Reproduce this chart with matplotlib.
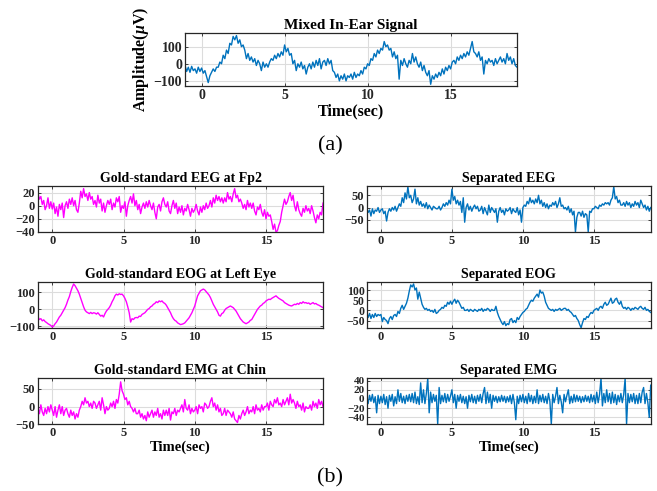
import numpy as np
import matplotlib
matplotlib.use("Agg")
import matplotlib.pyplot as plt

plt.rcParams['font.family'] = ['Liberation Serif', 'DejaVu Serif']
plt.rcParams['mathtext.fontset'] = 'custom'
plt.rcParams['mathtext.it'] = 'Liberation Serif:italic:bold'
plt.rcParams['mathtext.rm'] = 'Liberation Serif:bold'

# time axis (seconds), one value per 0.1 s from -1 to 19
t_start, t_step = -1.0, 0.1

mixed = [-10, -45, -20, -50, -15, -40, -30, -55, -20, -45,
         -25, -55, -40, -75, -110, -70, -50, -30, -45, -20,
         -20, 10, 0, 50, 30, 80, 60, 120, 110, 160,
         140, 165, 120, 140, 100, 110, 80, 30, 60, 20,
         40, 10, 30, -10, 20, 0, -40, 10, -20, 0,
         -20, 10, 30, 20, 50, 30, 60, 40, 70, 50,
         110, 70, 90, 50, 60, 0, 20, -40, 0, -20,
         10, -30, -10, -60, -20, 0, -30, 10, -20, 20,
         -10, 30, -30, 10, 20, -10, 30, 0, 20, -40,
         -50, -80, -60, -100, -70, -90, -60, -100, -70, -80,
         -60, -90, -50, -80, -60, -70, -40, -60, -20, -30,
         0, -10, 30, 20, 60, 40, 80, 60, 90, 80,
         130, 100, 110, 80, 90, 40, 70, 30, 50, -90,
         20, -10, 30, 0, -20, 20, 0, 60, 10, 40,
         0, -20, 10, -40, -10, -50, -70, -40, -120, -70,
         -90, -60, -80, -50, -70, -30, -60, -20, -40, -10,
         -30, 10, 20, 0, 40, 20, 50, 30, 60, 40,
         70, 50, 90, 130, 70, 60, 40, 70, 20, 40,
         -60, 20, 0, 30, 10, 20, -10, 30, 0, 20,
         40, 10, 30, 0, 60, 20, 40, 0, 30, -10,
         -20]

eeg_gold = [18, 10, 14, 2, 8, -6, 0, 12, -4, 6,
            -5, 4, -12, -2, -16, 2, -6, 4, -18, 0,
            6, -4, 10, 2, 12, 0, 8, -6, -10, 4,
            22, 12, 26, 14, 18, 8, 20, 10, 14, 2,
            8, -2, 16, 4, 10, -8, 4, -10, 0, 8,
            2, 10, -6, 4, -2, 12, 6, 14, -10, 0,
            -4, 6, -16, 0, 8, 14, 4, 18, 0, 8,
            -6, 2, -12, -2, 4, -4, 6, -2, 8, 0,
            -6, 4, -10, -20, -2, 2, -8, 6, 12, 2,
            -2, 6, -8, -12, 0, 8, -4, 4, -12, -2,
            -10, 0, -14, -4, -8, 2, -6, -16, -4, -10,
            -6, 2, -8, -14, -2, -10, 0, -6, 4, -4,
            0, 8, -2, 12, 4, 16, 8, 14, 6, 12,
            4, 12, 6, 20, 10, 14, 6, 18, 26, 12,
            16, 6, 10, 4, -4, 2, -6, 8, -2, 4,
            -4, 4, -8, -14, -2, -6, 2, -10, -16, -6,
            -20, -10, -16, -14, -24, -36, -28, -40, -38, -30,
            -24, -10, 0, 10, 2, 6, 14, 20, 8, 16,
            0, -8, 6, -6, -12, -16, -4, -10, 0, -8,
            -4, -12, 0, -8, -18, -26, -14, -20, -10, -14,
            4]

eeg_sep = [-5, -20, -10, -35, -5, -25, -10, -15, 0, -20,
           -10, -5, -25, -15, -55, -20, -5, -15, 0, -10,
           5, -15, 0, 15, 5, 40, 20, 60, 35, 85,
           40, 50, 20, 35, 75, 15, 40, 10, 25, 5,
           15, 0, 20, -5, 10, 0, -10, 5, 0, -5,
           -5, 5, -10, 0, 15, 5, 20, 10, 30, 15,
           75, 30, 45, 15, 30, 10, 25, -20, 40, -60,
           0, 15, -10, 5, -15, 0, 10, -5, 5, -15,
           -10, 5, -25, 0, -15, -30, 10, -20, 0, -10,
           -20, -5, -60, -15, 0, -20, -10, -30, -5, -15,
           -10, 0, -25, -5, -15, -20, 0, -30, -10, -60,
           0, 10, 5, 25, 15, 40, 20, 30, 15, 35,
           20, 50, 15, 30, 5, 20, 0, 15, -5, 10,
           5, 20, 10, 25, 0, 15, 40, 5, 10, -5,
           0, -10, 5, -20, -5, -30, -15, -100, -40, -20,
           -20, -35, -15, -40, -25, -30, -100, -15, -20, -5,
           -5, 5, 0, -5, 10, 5, 15, 10, 20, 15,
           20, 10, 30, 40, 85, 35, 45, 20, 30, 10,
           10, 20, 5, 25, 10, 20, 0, 15, 5, 25,
           10, 20, 0, 30, 15, 0, 10, -10, 5, -15,
           0]

eog_gold = [-45, -60, -55, -68, -62, -72, -78, -85, -90, -95,
            -105, -98, -85, -75, -60, -45, -35, -20, -5, 10,
            30, 55, 75, 105, 130, 150, 140, 125, 110, 90,
            65, 40, 15, -5, -15, -20, -25, -18, -25, -20,
            -22, -28, -20, -30, -40, -35, -45, -25, -10, 0,
            10, 25, 45, 60, 80, 90, 85, 92, 88, 90,
            80, 65, 45, 15, -20, -75, -55, -60, -50, -48,
            -50, -40, -42, -30, -25, -20, -10, 0, 5, 15,
            20, 30, 35, 45, 40, 50, 45, 50, 40, 35,
            25, 10, -5, -20, -40, -55, -65, -70, -80, -85,
            -90, -88, -85, -80, -70, -60, -50, -35, -20, 0,
            20, 50, 80, 95, 110, 115, 120, 115, 105, 95,
            85, 70, 50, 30, 15, 0, -15, -35, -40, -25,
            -20, -5, 5, 10, 15, 20, 15, 10, 0, -10,
            -25, -40, -55, -65, -75, -80, -85, -80, -75, -65,
            -60, -45, -30, -15, 0, 10, 20, 25, 35, 40,
            50, 55, 60, 58, 65, 70, 75, 80, 72, 65,
            60, 55, 50, 40, 35, 30, 25, 22, 20, 25,
            30, 28, 35, 30, 40, 35, 45, 38, 40, 35,
            38, 30, 35, 40, 32, 35, 28, 25, 20, 15,
            10]

eog_sep = [-10, -35, -15, -40, -20, -35, -15, -30, -20, -25,
           -20, -55, -35, -45, -50, -65, -40, -30, -45, -25,
           -20, -30, -5, -15, 10, 25, 5, 20, 35, 60,
           95, 125, 115, 130, 100, 110, 55, 90, 60, 30,
           15, 5, 10, 0, 5, -5, 0, -10, 5, -15,
           -10, 0, 5, 15, 10, 25, 20, 40, 30, 45,
           30, 45, 55, 35, 50, 40, 25, 10, 15, 0,
           0, 5, -5, 5, 0, -5, 5, 0, -5, 5,
           0, 10, -5, 5, 0, 10, 5, -5, 5, 0,
           0, 20, -10, -30, -45, -60, -70, -55, -75, -65,
           -70, -45, -40, -60, -50, -60, -35, -45, -30, -20,
           -10, -5, 5, 10, 25, 40, 50, 45, 60, 70,
           80, 65, 100, 85, 90, 70, 40, 25, 10, 5,
           0, 5, -5, 5, 0, 5, 10, 0, 5, 10,
           10, 0, 5, -5, -10, -20, -30, -25, -40, -50,
           -70, -85, -60, -40, -45, -30, -35, -20, -10, -15,
           0, 5, 10, 0, 15, 20, 10, 30, 40, 25,
           30, 45, 60, 35, 40, 55, 60, 40, 30, 45,
           20, 10, 15, 5, 15, 10, 0, 10, 5, 15,
           10, 5, 15, 20, 10, 5, 15, 0, 5, -5,
           -10]

emg_gold = [-5, -20, 5, -15, -25, -5, -20, 0, -15, 5,
            -10, -25, 0, -30, -10, 5, -20, 0, -25, -10,
            -5, -20, -30, -10, -25, -15, -35, -20, -30, -10,
            0, 15, 5, 25, 10, 15, 0, 10, -5, 15,
            10, -5, 5, 15, -10, 25, 5, -20, 0, -10,
            -5, 10, 0, 15, -5, 20, 10, 35, 70, 45,
            35, 20, 25, 5, 15, 0, -5, -15, -5, -20,
            -20, -10, -30, -20, -35, -25, -40, -15, -30, -20,
            -10, -30, -15, -25, -5, -30, -20, -35, -10, -25,
            -10, -25, -5, -38, -15, -20, -5, -25, -10, -15,
            -5, 5, -15, 20, -5, -10, 5, -20, -5, -15,
            -10, 0, -20, 5, -5, 0, -15, 10, 5, -5,
            0, 15, 25, 0, 10, -10, 5, -15, -5, -25,
            -20, -5, -25, -10, -15, -20, -30, -15, -35, -40,
            -45, -25, -35, -20, -10, -25, -15, 0, -20, -10,
            -15, 0, -20, 5, -10, -5, -15, 5, -10, 0,
            0, 10, -10, 15, 5, 0, 20, 10, 25, 5,
            10, 0, 20, 5, 15, 25, 5, 35, 10, 20,
            10, -5, 15, 0, 5, -10, 10, -15, 0, -5,
            -5, 5, -10, 15, 0, 10, -5, 20, 5, 15,
            0]

emg_sep = [5, -10, 8, -5, 10, -8, 5, -30, 8, -10,
           6, -8, 10, -12, 5, -20, 8, -5, 10, -15,
           5, -10, 20, -5, 12, -8, 6, -10, 8, -5,
           10, -6, 12, -8, 15, -10, 5, -12, 35, -8,
           20, -10, 12, 45, -30, 15, -8, 10, -5, 8,
           -55, 25, -10, 8, -6, 12, -8, 10, -5, 6,
           20, -8, 10, -20, 8, -5, 10, -8, 6, -10,
           5, -20, 8, -6, 10, -8, 6, -10, 8, -5,
           10, -8, 12, 25, -10, 15, -8, 10, -20, 8,
           -5, 6, -8, 5, -6, 8, -5, 6, -8, 5,
           -6, 8, -10, 10, -8, -45, 6, -10, 8, -6,
           10, -8, 6, -10, 12, -6, 8, -10, 6, -8,
           20, -10, 8, -6, 10, -8, 6, -10, 12, -5,
           -55, 10, -8, 6, 25, -10, 8, -6, -30, 10,
           -6, 8, 20, -10, 6, -8, 10, -6, 8, -5,
           6, -8, 5, -6, 8, -5, 6, -8, 10, -6,
           8, -10, 15, -8, 10, 45, -15, 12, -8, 20,
           -6, 12, -10, 15, -8, 10, -12, 8, -6, 12,
           -8, 10, 45, -55, 12, -8, 10, -6, 12, -10,
           8, -10, 12, -8, 15, 25, -10, 12, -8, -40,
           30]

x_ticks = [0, 5, 10, 15]

BLUE = '#0072BD'
MAG = '#FF00FF'

W, H = 657, 491
fig = plt.figure(figsize=(W / 100, H / 100), dpi=100)


def box(l, r, top, bot):
    return [l / W, 1 - bot / H, (r - l) / W, (bot - top) / H]


def style(ax, data, color, ylim, yticks, title, tfs, tickfs, xlabel=None, xlfs=11,
          ytickfs=None):
    t = t_start + t_step * np.arange(len(data))
    ax.plot(t, data, color=color, lw=1.0)
    ax.set_xlim(-1, 19)
    ax.set_ylim(*ylim)
    ax.set_xticks(x_ticks)
    ax.set_yticks(yticks)
    ax.grid(True, color='#dcdcdc', lw=0.8)
    ax.set_axisbelow(True)
    for s in ax.spines.values():
        s.set_color('#262626')
        s.set_linewidth(0.9)
    ax.tick_params(direction='in', length=2.5, width=0.6, colors='#262626',
                   labelsize=tickfs, pad=2, top=True, right=True)
    if ytickfs:
        ax.tick_params(axis='y', labelsize=ytickfs, pad=1.5)
    for lab in ax.get_xticklabels() + ax.get_yticklabels():
        lab.set_fontweight('bold')
        lab.set_color('#262626')
    ax.set_title(title, fontsize=tfs, fontweight='bold', pad=3)
    if xlabel:
        ax.set_xlabel(xlabel, fontsize=xlfs, fontweight='bold', labelpad=1)


ax0 = fig.add_axes(box(185, 517, 33, 86))
style(ax0, mixed, BLUE, (-130, 180), [-100, 0, 100], 'Mixed In-Ear Signal', 11, 10,
      'Time(sec)', 11.5)
ax0.set_ylabel(r'Amplitude($\mu$V)', fontsize=11.5, fontweight='bold', labelpad=2)

L = (38, 323)
R = (366.7, 650.7)
rows = [(186, 232), (282.3, 328.3), (378.3, 424.3)]

style(fig.add_axes(box(*L, *rows[0])), eeg_gold, MAG, (-40, 30), [-40, -20, 0, 20],
      'Gold-standard EEG at Fp2', 10, 9)
style(fig.add_axes(box(*R, *rows[0])), eeg_sep, BLUE, (-100, 88), [-50, 0, 50],
      'Separated EEG', 10, 9)
style(fig.add_axes(box(*L, *rows[1])), eog_gold, MAG, (-112, 160), [-100, 0, 100],
      'Gold-standard EOG at Left Eye', 10, 9)
style(fig.add_axes(box(*R, *rows[1])), eog_sep, BLUE, (-88, 138), [-50, 0, 50, 100],
      'Separated EOG', 10, 9, ytickfs=8.5)
style(fig.add_axes(box(*L, *rows[2])), emg_gold, MAG, (-50, 80), [-50, 0, 50],
      'Gold-standard EMG at Chin', 10, 9, 'Time(sec)', 10.5)
style(fig.add_axes(box(*R, *rows[2])), emg_sep, BLUE, (-55, 45), [-40, -20, 0, 20, 40],
      'Separated EMG', 10, 9, 'Time(sec)', 10.5, ytickfs=8)

fig.text(330 / W, 1 - 146 / H, '(a)', fontsize=16, ha='center', va='center')
fig.text(330 / W, 1 - 478 / H, '(b)', fontsize=16, ha='center', va='center')

fig.savefig('out.png', dpi=100)
